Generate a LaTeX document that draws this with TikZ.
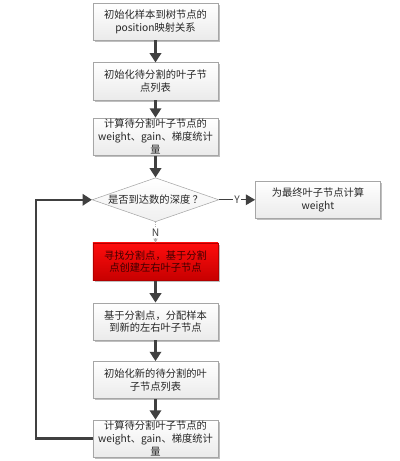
\documentclass[tikz,border=0pt]{standalone}
\usepackage{fontspec}
\setmainfont{Noto Sans CJK SC}
\usepackage{tikz}
\usetikzlibrary{positioning,shapes.geometric,arrows.meta,shadows}
\definecolor{arrowgray}{HTML}{404040}
\definecolor{boxline}{HTML}{A6A6A6}

\begin{document}
\begin{tikzpicture}
    [ x = .75pt, y = -.75pt
    , font = \fontsize{7.7}{9.6}\selectfont
    , proc/.style =
      { draw = boxline, top color = white, bottom color = gray!16
      , minimum width = 94pt, minimum height = 28pt
      , inner xsep = 2pt, inner ysep = 0pt, align = center, text = black!85
      , drop shadow = {shadow xshift = 1.3pt, shadow yshift = -1.3pt, fill = gray!50, opacity = 1} }
    , hot/.style =
      { draw = red!70!black, top color = red!95!white, bottom color = red!78!black
      , text = red!25!black }
    , decision/.style =
      { draw = boxline, diamond, aspect = 2.9, top color = white, bottom color = gray!12
      , minimum width = 95pt, minimum height = 33pt, inner sep = 0pt, text = black!85 }
    , flow/.style =
      { draw = arrowgray, line width = 1.8pt, -{Triangle[length=7pt,width=8.5pt]} }
    , yes/.style =
      { draw = arrowgray, line width = .9pt, -{Triangle[length=7pt,width=8pt]} }
    , no/.style =
      { draw = gray!60, line width = .5pt, densely dotted, -{Triangle[length=3pt,width=3pt]} }
    , tag/.style =
      { fill = white, inner sep = 1pt, text = arrowgray }
    ]
    \useasboundingbox (0,0) rectangle (400,461);

    \node [proc] (init) at (155.5,21.5) {初始化样本到树节点的\\position映射关系};
    \node [proc] (leaves) [below=16.5pt of init] {初始化待分割的叶子节\\点列表};
    \node [proc] (stats) [below=13pt of leaves] {计算待分割叶子节点的\\weight、gain、梯度统计\\量};
    \node [decision] (depth) [below=16.5pt of stats] {是否到达数的深度 ？};
    \node [proc] (final) [right=27pt of depth] {为最终叶子节点计算\\weight};
    \node [proc,hot] (split) [below=15.5pt of depth] {寻找分割点，基于分割\\点创建左右叶子节点};
    \node [proc] (assign) [below=16.5pt of split] {基于分割点，分配样本\\到新的左右叶子节点};
    \node [proc] (newleaves) [below=15.5pt of assign] {初始化新的待分割的叶\\子节点列表};
    \node [proc] (newstats) [below=15.5pt of newleaves] {计算待分割叶子节点的\\weight、gain、梯度统计\\量};
    \coordinate (loop) at (36,0);

    \draw [flow] (init) -- (leaves);
    \draw [flow] (leaves) -- (stats);
    \draw [flow] (stats) -- (depth);
    \draw [yes] (depth.east) -- node [tag] {Y} (final.west);
    \draw [no] (depth.south) -- node [tag] {N} (split.north);
    \draw [flow] (split) -- (assign);
    \draw [flow] (assign) -- (newleaves);
    \draw [flow] (newleaves) -- (newstats);
    \draw [flow] (newstats.west) -- (newstats.west -| loop) |- (depth.west);
\end{tikzpicture}
\end{document}
